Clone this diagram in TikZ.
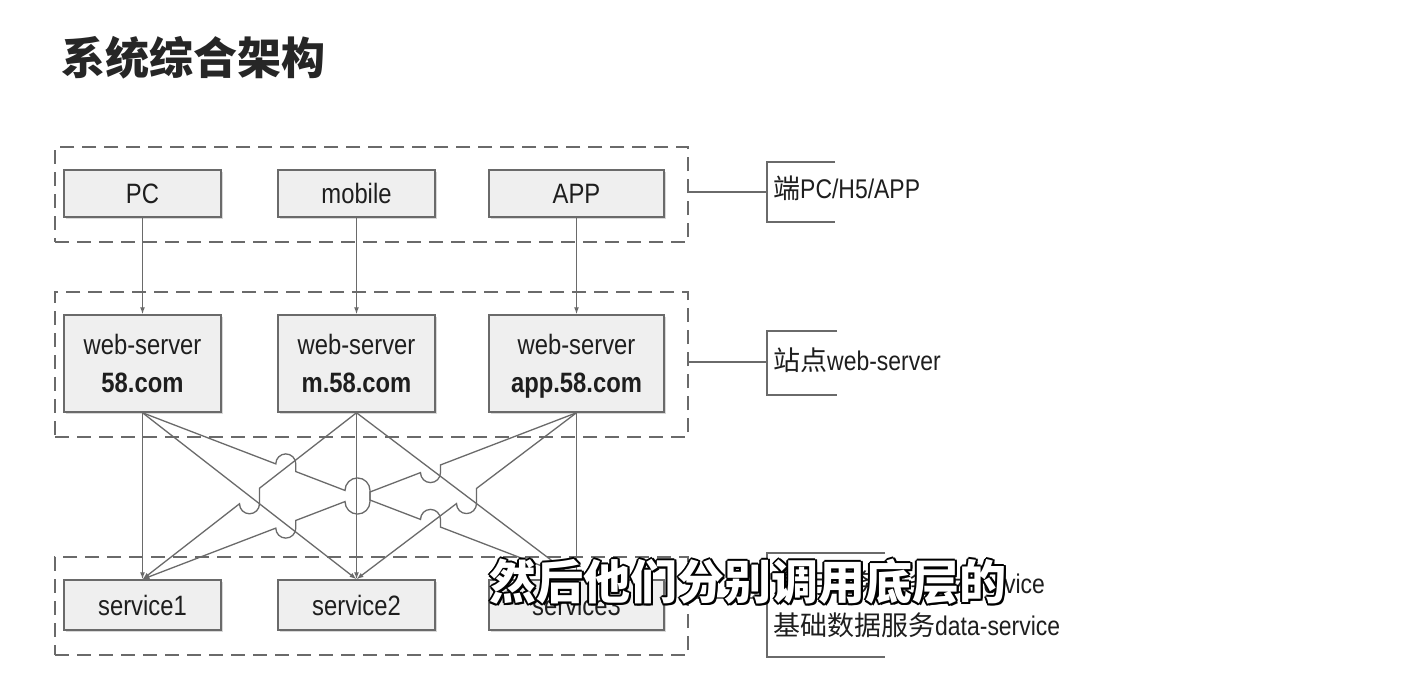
\documentclass[tikz,border=0pt]{standalone}
\usepackage{fontspec}
\setmainfont{Liberation Sans}[FakeStretch=0.85]
\newfontfamily\cjk{Noto Sans CJK SC}
\usetikzlibrary{arrows.meta,shadows}

\definecolor{linegray}{HTML}{6A6A6A}
\definecolor{boxfill}{HTML}{EFEFEF}
\definecolor{txtgray}{HTML}{1E1E1E}

\tikzset{
  box/.style={draw=linegray, line width=1.5pt, fill=boxfill, text=txtgray,
    minimum width=157pt, minimum height=47pt, inner sep=0pt,
    font=\fontsize{28}{38}\selectfont,
    drop shadow={shadow xshift=1.5pt, shadow yshift=-1.5pt, opacity=0.3}},
  tier/.style={draw=linegray, line width=2pt, dash pattern=on 14pt off 8pt,
    minimum width=633pt, inner sep=0pt},
  wire/.style={draw=linegray, line width=1.3pt},
  call/.style={wire, -{Latex[length=7pt,width=5pt]}},
  callback/.style={wire, {Latex[length=7pt,width=5pt]}-},
  hopup/.style={start angle=180, end angle=0},
  hopdown/.style={start angle=180, end angle=360},
  brace/.style={draw=linegray, line width=1.5pt},
  note/.style={anchor=west, inner sep=0pt, text=txtgray,
    font=\fontsize{27}{34}\selectfont},
}

\begin{document}
\begin{tikzpicture}[x=1pt,y=-1pt]
  \fill[white] (0,0) rectangle (1416,678);

  % Title
  \node[anchor=west, inner sep=0pt, text=black!85,
    font=\cjk\bfseries\fontsize{44}{50}\selectfont] (title) at (61,58) {系统综合架构};

  % Layers
  \node[tier, minimum height=95pt] (tier1) at (371.5,194.5) {};
  \node[tier, minimum height=145pt] (tier2) at (371.5,364.5) {};
  \node[tier, minimum height=98pt] (tier3) at (371.5,606) {};

  % Clients
  \node[box] (pc) at (142.5,193.5) {PC};
  \node[box] (mobile) at (356.5,193.5) {mobile};
  \node[box, minimum width=175pt] (app) at (576.5,193.5) {APP};

  % Web servers
  \node[box, minimum height=97pt, align=center] (web1) at (142.5,363.5) {web-server\\\textbf{58.com}};
  \node[box, minimum height=97pt, align=center] (web2) at (356.5,363.5) {web-server\\\textbf{m.58.com}};
  \node[box, minimum width=175pt, minimum height=97pt, align=center] (web3) at (576.5,363.5) {web-server\\\smash{\textbf{app.58.com}}};

  % Services
  \node[box, minimum height=50pt] (srv1) at (142.5,605) {service1};
  \node[box, minimum height=50pt] (srv2) at (356.5,605) {service2};
  \node[box, minimum width=175pt, minimum height=50pt] (srv3) at (576.5,605) {service3};

  % Edges
  \draw[call] (pc) -- (web1);
  \draw[call] (mobile) -- (web2);
  \draw[call] (app) -- (web3);
  \draw[call] (web1) -- (srv1);
  \draw[call] (web2) -- (srv2);
  \draw[call] (web3) -- (srv3);
  \draw[call] (web1.south) -- (srv2.north);
  \draw[call] (web2.south) -- (srv3.north);
  % Edges with line jumps
  \draw[call] (web1.south) -- (275.8,463.89) arc[hopup, radius=10pt] -- (295.8,471.56)
    -- (345,490.44) arc[hopup, radius=12.5pt] -- (370,500.03)
    -- (420.5,519.40) arc[hopup, radius=10pt] -- (440.5,527.07) -- (srv3.north);
  \draw[callback] (srv1.north) -- (275.8,528.11) arc[hopdown, radius=10pt] -- (295.8,520.44)
    -- (345,501.56) arc[hopdown, radius=12.5pt] -- (370,491.97)
    -- (420.5,472.60) arc[hopdown, radius=10pt] -- (440.5,464.93) -- (web3.south);
  \draw[callback] (srv1.north) -- (239.5,503.78) arc[hopdown, radius=10pt] -- (259.5,488.22) -- (web2.south);
  \draw[callback] (srv2.north) -- (456.5,503.57) arc[hopdown, radius=10pt] -- (476.5,488.43) -- (web3.south);

  % Brackets
  \coordinate (b1) at (767,192);
  \coordinate (b2) at (767,362);
  \coordinate (b3) at (767,598);
  \draw[brace] (835,162) -| (767,222) -- (835,222);
  \draw[brace] (837,331) -| (767,395) -- (837,395);
  \draw[brace] (885,553) -| (767,657) -- (885,657);
  \draw[brace] (tier1.east |- b1) -- (b1);
  \draw[brace] (tier2.east |- b2) -- (b2);
  \draw[brace] (tier3.east |- b3) -- (b3);

  \node[note] (n1) at (773,188) {{\cjk 端}PC/H5/APP};
  \node[note] (n2) at (773,360) {{\cjk 站点}web-server};
  \node[note] (n3) at (773,583) {{\cjk 通用业务服务}biz-service};
  \node[note] (n4) at (773,625) {{\cjk 基础数据服务}data-service};

  % Subtitle
  \foreach \dx/\dy in {-2/0,2/0,0/-2,0/2,-1.5/-1.5,1.5/1.5,-1.5/1.5,1.5/-1.5}
    \node[inner sep=0pt, text=black, font=\cjk\bfseries\fontsize{47}{52}\selectfont]
      at (748+\dx,582+\dy) {然后他们分别调用底层的};
  \node[inner sep=0pt, text=white, font=\cjk\bfseries\fontsize{47}{52}\selectfont]
    (subtitle) at (748,582) {然后他们分别调用底层的};
\end{tikzpicture}
\end{document}
